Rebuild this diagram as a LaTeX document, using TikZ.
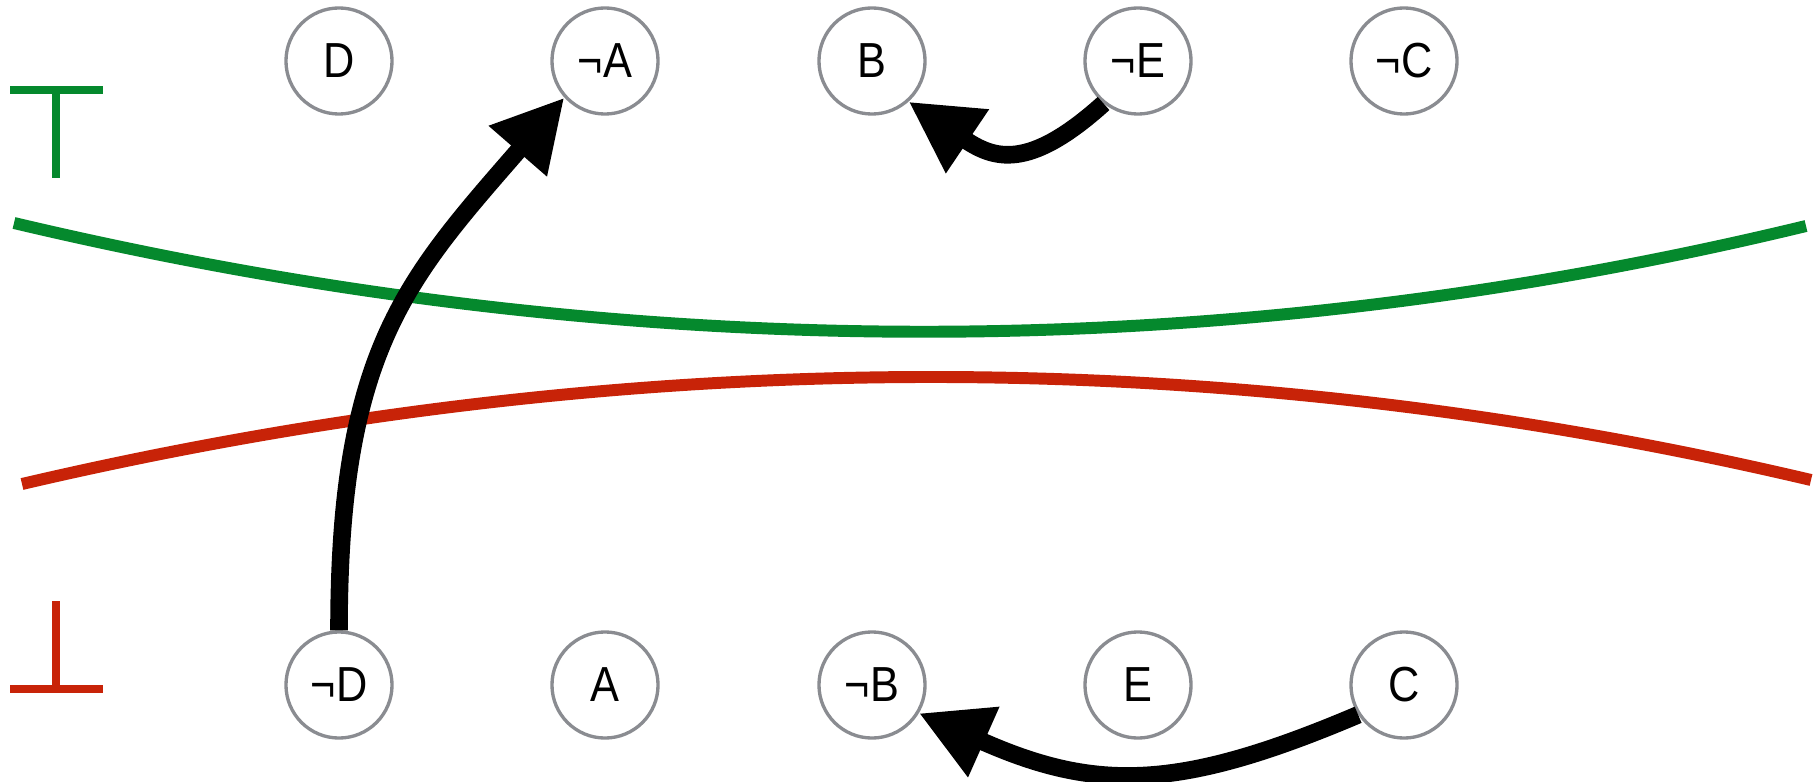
\documentclass[tikz,border=0pt]{standalone}
\usepackage{fontspec}
\setmainfont{Liberation Sans}[FakeStretch=0.88]
\usetikzlibrary{arrows.meta}
\definecolor{topgreen}{RGB}{5,137,45}
\definecolor{botred}{RGB}{200,35,8}
\definecolor{ringgray}{RGB}{138,140,145}
\begin{document}
\begin{tikzpicture}[x=0.01cm,y=-0.01cm,
  lit/.style={circle,draw=ringgray,line width=0.95pt,fill=white,minimum size=1.06cm,inner sep=0pt,font=\fontsize{14}{16}\selectfont},
  implies/.style={line width=5pt,-{Triangle[length=0.71cm,width=0.72cm]}}]
\useasboundingbox (0,0) rectangle (1815,782);

\draw[topgreen,line width=3.4pt] (14,223) .. controls (622,367) and (1219,368) .. (1806,226);
\draw[botred,line width=3.4pt] (22,484) .. controls (625,343) and (1221,341) .. (1811,480);

\draw[topgreen,line width=2.3pt] (10,90) -- (103,90) (56,90) -- (56,178);
\draw[botred,line width=2.3pt] (10,689) -- (103,689) (56,689) -- (56,601);

\node[lit] (D) at (339,61) {D};
\node[lit] (nA) at (605,61) {¬A};
\node[lit] (B) at (872,61) {B};
\node[lit] (nE) at (1138,61) {¬E};
\node[lit] (nC) at (1404,61) {¬C};
\node[lit] (nD) at (339,685) {¬D};
\node[lit] (A) at (605,685) {A};
\node[lit] (nB) at (872,685) {¬B};
\node[lit] (E) at (1138,685) {E};
\node[lit] (C) at (1404,685) {C};

\draw[implies] (nD.north) to[out=90,in=229,out distance=2.8cm,in distance=2.4cm] (nA.222);
\draw[implies] (nE.231) to[out=222,in=-34,out distance=1.02cm,in distance=1.02cm] (B.-48);
\draw[implies] (C.213) to[out=203,in=-24,out distance=1.94cm,in distance=1.94cm] (nB.-31);

\end{tikzpicture}
\end{document}
